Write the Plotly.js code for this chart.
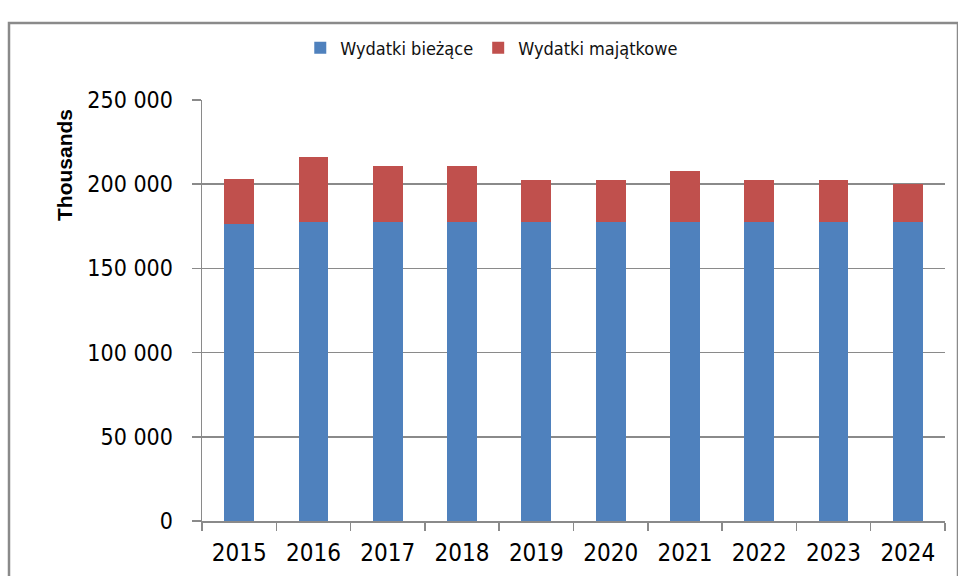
<!DOCTYPE html>
<html>
<head>
<meta charset="utf-8">
<script src="https://cdn.plot.ly/plotly-3.0.1.min.js"></script>
<style>
html,body{margin:0;padding:0;background:#fff;}
#chart{width:958px;height:576px;}
</style>
</head>
<body>
<div id="chart"></div>
<script>
const years = ['2015','2016','2017','2018','2019','2020','2021','2022','2023','2024'];
const currentExp = [176400,177700,177700,177700,177700,177700,177700,177700,177700,177700];
const capitalExp = [26600,38600,33100,33100,24800,24800,30100,24800,24800,22700];
const seriesNames = ['Wydatki bieżące','Wydatki majątkowe'];
const yTicks = [0,50000,100000,150000,200000,250000];

const FONT = '"Liberation Sans Narrow", "DejaVu Sans Condensed", "Liberation Sans", sans-serif';
const GRID = '#8a8a8a';

const traces = [
  {type:'bar', name:seriesNames[0], x:years, y:currentExp, marker:{color:'#4F81BD'}},
  {type:'bar', name:seriesNames[1], x:years, y:capitalExp, marker:{color:'#C0504D'}}
];

const layout = {
  width:958, height:576,
  margin:{l:202, r:13, t:100, b:55},
  barmode:'stack',
  bargap:0.6,
  separators:', ',
  paper_bgcolor:'#fff', plot_bgcolor:'#fff',
  font:{family:FONT, color:'#000'},
  showlegend:true,
  legend:{orientation:'h', x:0.39, xanchor:'center', y:1.1235, yanchor:'middle',
          font:{family:'"DejaVu Sans Condensed", "Liberation Sans", sans-serif', size:18, color:'#111'},
          traceorder:'normal', itemwidth:30},
  xaxis:{type:'category', tickson:'boundaries', ticks:'outside', ticklen:8, tickcolor:GRID, tickwidth:1.5,
         showline:true, linecolor:GRID, linewidth:1.5, showgrid:false, ticklabelstandoff:10,
         tickfont:{family:FONT, size:24, color:'#000'}, fixedrange:true},
  yaxis:{range:[0,250000], tickvals:yTicks, tickformat:',d', ticks:'outside', ticklen:9, tickcolor:GRID, tickwidth:1.5,
         showline:true, linecolor:GRID, linewidth:1.5, showgrid:true, gridcolor:GRID, gridwidth:1.5,
         zeroline:false, ticklabelstandoff:14,
         tickfont:{family:FONT, size:23, color:'#000'}, fixedrange:true},
  annotations:[{text:'<b>Thousands</b>', xref:'paper', yref:'paper', x:(64-202)/743, y:1-(165-100)/421,
                xanchor:'center', yanchor:'middle', textangle:-90, showarrow:false,
                font:{family:'"Liberation Sans", sans-serif', size:21, color:'#000'}}],
  shapes:[{type:'rect', xref:'paper', yref:'paper', x0:(9-202)/743, x1:(958-202)/743,
           y0:-(600-521)/421, y1:1+(100-23)/421, line:{color:GRID, width:2.5}, layer:'below'}]
};

Plotly.newPlot('chart', traces, layout, {displayModeBar:false, staticPlot:true});
</script>
</body>
</html>
